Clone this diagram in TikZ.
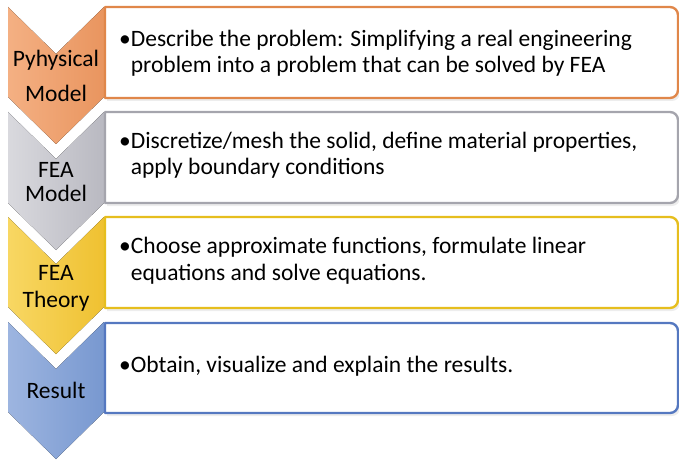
\documentclass[tikz,border=0pt]{standalone}
\usepackage{fontspec}
\setmainfont{Carlito}
\definecolor{oB}{HTML}{E0874A}\definecolor{oL}{HTML}{F4B083}\definecolor{oM}{HTML}{F7C29C}\definecolor{oR}{HTML}{E9955F}
\definecolor{gB}{HTML}{A5A5AD}\definecolor{gL}{HTML}{D9D9DE}\definecolor{gM}{HTML}{E6E6EA}\definecolor{gR}{HTML}{B9B9C1}
\definecolor{yB}{HTML}{E6BE1E}\definecolor{yL}{HTML}{F8D763}\definecolor{yM}{HTML}{FBE28A}\definecolor{yR}{HTML}{EFC131}
\definecolor{bB}{HTML}{5578C0}\definecolor{bL}{HTML}{9DB5E0}\definecolor{bM}{HTML}{AAC0E6}\definecolor{bR}{HTML}{7898D0}
\tikzset{
  chev/.style={draw=none},
  boxline/.style={line width=2.4pt, fill=white, line join=round},
  bodytext/.style={anchor=base west, align=left, inner sep=0pt, font=\fontsize{23.5}{26.5}\selectfont},
  labeltext/.style={anchor=base, inner sep=0pt, font=\fontsize{23.5}{26}\selectfont},
}
\newcommand{\chevpath}[2]{(8,#1) -- (56,#1-47) -- (104,#1) -- (104,#2) -- (56,#2-47) -- (8,#2) -- cycle}
\newcommand{\boxpath}[2]{(105,#1) -- (670,#1) arc[start angle=90,end angle=0,radius=8] -- (678,#2+8) arc[start angle=0,end angle=-90,radius=8] -- (105,#2) -- cycle}
\begin{document}
\begin{tikzpicture}[x=1pt,y=1pt]
\useasboundingbox (0,0) rectangle (679,464);
% chevrons
\fill[chev, left color=oL, middle color=oM, right color=oR] \chevpath{457}{367};
\fill[chev, left color=gL, middle color=gM, right color=gR] \chevpath{352}{261};
\fill[chev, left color=yL, middle color=yM, right color=yR] \chevpath{247}{157};
\fill[chev, left color=bL, middle color=bM, right color=bR] \chevpath{142}{52};
% boxes with soft shadow
\foreach \t/\b in {457/366,352/261,247/156,141/51}{
  \fill[black, opacity=0.07] (107,\t-3) -- (670,\t-3) arc[start angle=90,end angle=0,radius=8] -- (680,\b+5) arc[start angle=0,end angle=-90,radius=8] -- (107,\b-3) -- cycle;
}
\draw[boxline, draw=oB] \boxpath{457}{366};
\draw[boxline, draw=gB] \boxpath{352}{261};
\draw[boxline, draw=yB] \boxpath{247}{156};
\draw[boxline, draw=bB] \boxpath{141}{51};
% labels
\node[labeltext] (l1a) at (56,397) {Pyhysical};
\node[labeltext] (l1b) at (56,362) {Model};
\node[labeltext] (l2a) at (56,287) {FEA};
\node[labeltext] (l2b) at (56,262) {Model};
\node[labeltext] (l3a) at (56,184) {FEA};
\node[labeltext] (l3b) at (56,157) {Theory};
\node[labeltext] (l4a) at (56,66) {Result};
% bullet texts (base anchor = last line)
\node[bodytext] (t1) at (119,391) {•Describe the problem: Simplifying a real engineering\\\phantom{•}problem into a problem that can be solved by FEA};
\node[bodytext] (t2) at (119,289) {•Discretize/mesh the solid, define material properties,\\\phantom{•}apply boundary conditions};
\node[bodytext] (t3) at (119,184) {•Choose approximate functions, formulate linear\\\phantom{•}equations and solve equations.};
\node[bodytext] (t4) at (119,92) {•Obtain, visualize and explain the results.};
\end{tikzpicture}
\end{document}
